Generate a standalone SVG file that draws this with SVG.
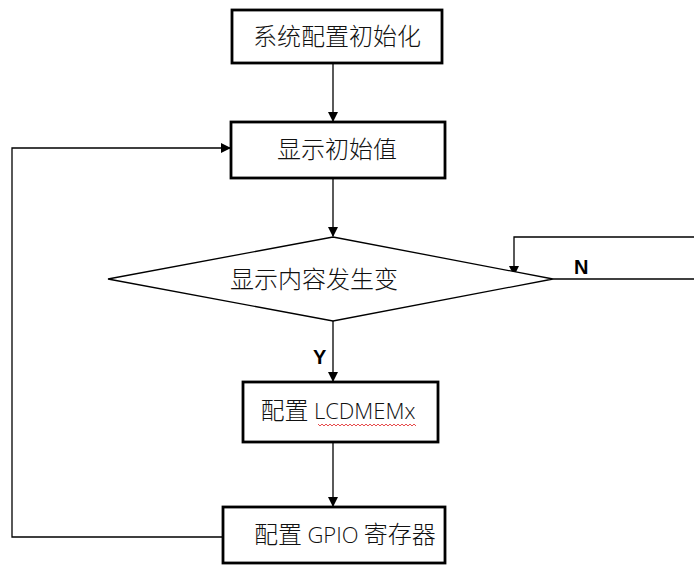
<svg xmlns="http://www.w3.org/2000/svg" width="694" height="565" viewBox="0 0 694 565">
<style>
.box{fill:#fff;stroke:#000;stroke-width:2.8}
.dia{fill:#fff;stroke:#000;stroke-width:1.3}
.t{font-family:"Microsoft YaHei","Noto Sans CJK SC","Noto Sans",sans-serif;font-size:24px;font-weight:300;fill:#111;text-anchor:middle}
.lat{font-family:"Open Sans","Noto Sans",sans-serif;font-size:22px}
.c{fill:none;stroke:#000;stroke-width:1.3}
.yn{font-family:"Liberation Sans",Arial,sans-serif;font-size:20px;font-weight:bold;fill:#000}
</style>
<defs>
<marker id="ah" markerWidth="10" markerHeight="10" refX="9" refY="5" orient="auto" markerUnits="userSpaceOnUse">
<path d="M0,0 L10,5 L0,10 z" fill="#000"/>
</marker>
</defs>
<g id="connectors">
<line class="c" x1="333" y1="63" x2="333" y2="121" marker-end="url(#ah)"/>
<line class="c" x1="333" y1="178" x2="333" y2="236" marker-end="url(#ah)"/>
<line class="c" x1="333" y1="321" x2="333" y2="381" marker-end="url(#ah)"/>
<line class="c" x1="333" y1="442" x2="333" y2="506" marker-end="url(#ah)"/>
<polyline class="c" points="223,537 12,537 12,148 230,148" marker-end="url(#ah)"/>
<line class="c" x1="553" y1="279" x2="694" y2="279"/>
<polyline class="c" points="694,237 514,237 514,275" marker-end="url(#ah)"/>
<text class="yn" x="574" y="274">N</text>
<text class="yn" x="313" y="364">Y</text>
</g>
<g id="n1">
<rect class="box" x="232" y="10" width="210" height="53"/>
<text class="t" x="337" y="45">系统配置初始化</text>
</g>
<g id="n2">
<rect class="box" x="231" y="122" width="214" height="56"/>
<text class="t" x="337" y="158">显示初始值</text>
</g>
<g id="n3">
<polygon class="dia" points="333,237 553,279 333,321 108,279"/>
<text class="t" x="314" y="288">显示内容发生变</text>
</g>
<g id="n4">
<rect class="box" x="243" y="382" width="195" height="60"/>
<text class="t" x="338" y="419">配置 <tspan class="lat">LCDMEMx</tspan></text>
<path d="M318,424 l2,2 l2,-2 l2,2 l2,-2 l2,2 l2,-2 l2,2 l2,-2 l2,2 l2,-2 l2,2 l2,-2 l2,2 l2,-2 l2,2 l2,-2 l2,2 l2,-2 l2,2 l2,-2 l2,2 l2,-2 l2,2 l2,-2 l2,2 l2,-2 l2,2 l2,-2 l2,2 l2,-2 l2,2 l2,-2 l2,2 l2,-2 l2,2 l2,-2 l2,2 l2,-2 l2,2 l2,-2 l2,2 l2,-2 l2,2 l2,-2 l2,2 l2,-2 l2,2 l2,-2 l2,2" fill="none" stroke="#e02020" stroke-width="0.8"/>
</g>
<g id="n5">
<rect class="box" x="223" y="507" width="222" height="56"/>
<text class="t" x="345" y="543">配置 <tspan class="lat">GPIO</tspan> 寄存器</text>
</g>
</svg>
